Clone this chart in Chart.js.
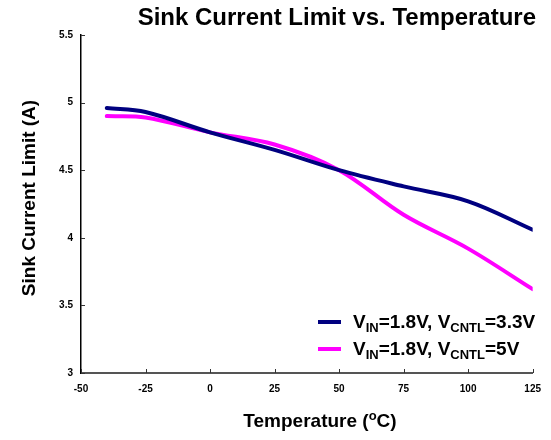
<!DOCTYPE html>
<html>
<head>
<meta charset="utf-8">
<script src="https://cdn.jsdelivr.net/npm/chart.js@4/dist/chart.umd.min.js"></script>
<style>
  html, body { margin: 0; padding: 0; background: #fff; }
  #wrap { width: 551px; height: 440px; position: relative; }
</style>
</head>
<body>
<div id="wrap"><canvas id="chart"></canvas></div>
<script>
// temperatures (°C) where the curves were sampled
const temps = [-40, -25, 0, 25, 50, 75, 100, 125]
// sink current limit (A)
const cntl33 = [4.96, 4.93, 4.78, 4.65, 4.50, 4.38, 4.27, 4.06]
const cntl5 = [4.90, 4.89, 4.78, 4.69, 4.50, 4.17, 3.92, 3.62]

const xTicks = [-50, -25, 0, 25, 50, 75, 100, 125]
const yTicks = [3, 3.5, 4, 4.5, 5, 5.5]

const titleText = "Sink Current Limit vs. Temperature"
const yTitle = "Sink Current Limit (A)"
// legend text pieces, sub = subscript
const legend33 = [["V"], ["IN", true], ["=1.8V, V"], ["CNTL", true], ["=3.3V"]]
const legend5 = [["V"], ["IN", true], ["=1.8V, V"], ["CNTL", true], ["=5V"]]

const NAVY = "#000080"
const MAGENTA = "#ff00ff"
const FONT = "'Liberation Sans', Arial, sans-serif"

// draws text with sub/superscript pieces, returns width
function richText(ctx, parts, x, y, size, draw) {
  let w = 0
  parts.forEach(([t, sub, sup]) => {
    const small = sub || sup
    ctx.font = `bold ${small ? Math.round(size * 0.7) : size}px ${FONT}`
    const dy = sub ? size * 0.22 : sup ? -size * 0.38 : 0
    if (draw) ctx.fillText(t, x + w, y + dy)
    w += ctx.measureText(t).width
  })
  return w
}

const decorations = {
  id: "decorations",
  afterDraw(chart) {
    const { ctx, chartArea, scales } = chart
    ctx.save()
    ctx.fillStyle = "#000"
    ctx.textBaseline = "alphabetic"

    // title
    ctx.font = `bold 24px ${FONT}`
    ctx.textAlign = "right"
    ctx.fillText(titleText, 536, 25)
    ctx.textAlign = "left"

    // inside tick marks
    ctx.strokeStyle = "#333"
    ctx.lineWidth = 1
    xTicks.forEach(v => {
      const px = Math.round(scales.x.getPixelForValue(v)) + 0.5
      ctx.beginPath()
      ctx.moveTo(px, chartArea.bottom)
      ctx.lineTo(px, chartArea.bottom - 4)
      ctx.stroke()
    })
    yTicks.forEach(v => {
      const py = Math.round(scales.y.getPixelForValue(v)) + 0.5
      ctx.beginPath()
      ctx.moveTo(chartArea.left, py)
      ctx.lineTo(chartArea.left + 4, py)
      ctx.stroke()
    })

    // x axis title with superscript o
    const xParts = [["Temperature ("], ["o", false, true], ["C)"]]
    const xw = richText(ctx, xParts, 0, 0, 19, false)
    richText(ctx, xParts, 320 - xw / 2, 427, 19, true)

    // y axis title
    ctx.save()
    ctx.translate(30, 198)
    ctx.rotate(-Math.PI / 2)
    ctx.font = `bold 19px ${FONT}`
    ctx.textAlign = "center"
    ctx.textBaseline = "middle"
    ctx.fillText(yTitle, 0, 0)
    ctx.restore()

    // legend
    const rows = [[legend33, NAVY, 322], [legend5, MAGENTA, 349]]
    rows.forEach(([parts, color, y]) => {
      ctx.strokeStyle = color
      ctx.lineWidth = 4
      ctx.beginPath()
      ctx.moveTo(318, y)
      ctx.lineTo(341, y)
      ctx.stroke()
      ctx.fillStyle = "#000"
      richText(ctx, parts, 353, y + 6, 19, true)
    })
    ctx.restore()
  }
}

const ctx = document.getElementById("chart").getContext("2d")
new Chart(ctx, {
  type: "line",
  data: {
    labels: temps,
    datasets: [
      {
        label: "VIN=1.8V, VCNTL=3.3V",
        data: temps.map((t, i) => ({ x: t, y: cntl33[i] })),
        borderColor: NAVY,
        borderWidth: 4,
        borderCapStyle: "round",
        pointRadius: 0,
        tension: 0.35
      },
      {
        label: "VIN=1.8V, VCNTL=5V",
        data: temps.map((t, i) => ({ x: t, y: cntl5[i] })),
        borderColor: MAGENTA,
        borderWidth: 4,
        borderCapStyle: "round",
        pointRadius: 0,
        tension: 0.35
      }
    ]
  },
  options: {
    responsive: true,
    maintainAspectRatio: false,
    animation: false,
    layout: { padding: { left: 0, top: 35, right: 16, bottom: 0 } },
    plugins: {
      legend: { display: false },
      title: { display: false },
      tooltip: { enabled: false }
    },
    scales: {
      x: {
        type: "linear",
        min: -50,
        max: 125,
        afterFit: s => { s.height = 67 },
        afterBuildTicks: s => { s.ticks = xTicks.map(v => ({ value: v })) },
        grid: { display: false, drawTicks: false },
        border: { display: true, color: "#555", width: 2 },
        ticks: {
          padding: 10,
          color: "#000",
          font: { family: FONT, size: 10, weight: "bold" },
          callback: v => String(v)
        }
      },
      y: {
        min: 3,
        max: 5.5,
        afterFit: s => { s.width = 81 },
        afterBuildTicks: s => { s.ticks = yTicks.map(v => ({ value: v })) },
        grid: { display: false, drawTicks: false },
        border: { display: true, color: "#000", width: 1.5 },
        ticks: {
          padding: 8,
          color: "#000",
          font: { family: FONT, size: 10, weight: "bold" },
          callback: v => String(v)
        }
      }
    }
  },
  plugins: [decorations]
})
</script>
</body>
</html>
